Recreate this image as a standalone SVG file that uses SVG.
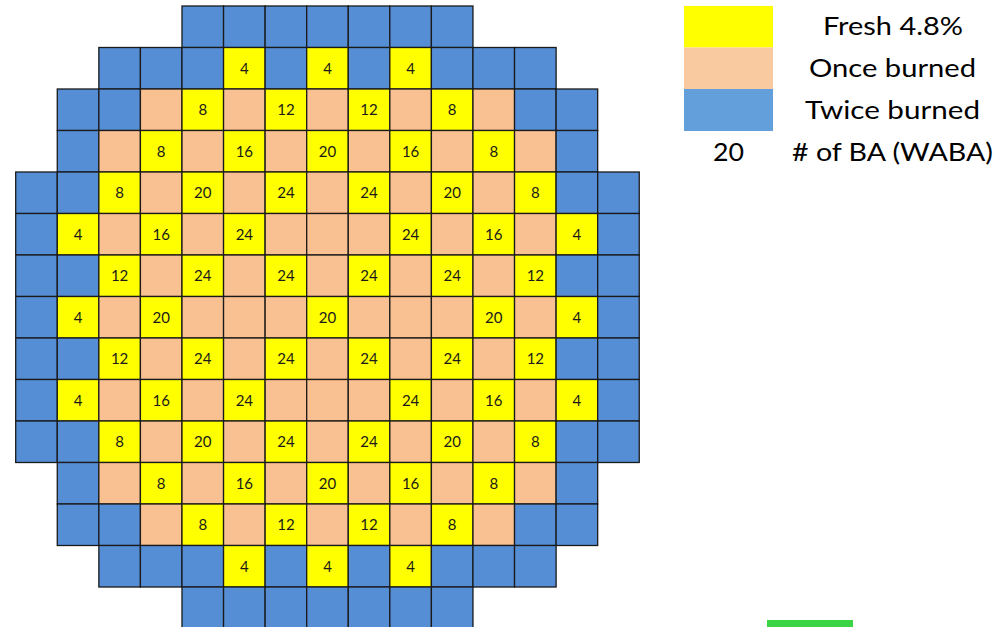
<svg xmlns="http://www.w3.org/2000/svg" width="1001" height="627" viewBox="0 0 1001 627">
<style>
rect.b,rect.p,rect.y{stroke:#1a1a1a;stroke-width:1.3}
.b{fill:#558ED5}
.p{fill:#F9C091}
.y{fill:#FFFF00}
.n{font-family:Lato,"Liberation Sans",sans-serif;font-size:15px;fill:#1a1a1a;text-anchor:middle}
.lg{font-family:Lato,"Liberation Sans",sans-serif;font-size:25px;fill:#000;text-anchor:middle}
</style>
<rect width="1001" height="627" fill="#fff"/>
<g id="core">
<g id="row0" transform="translate(0,6)">
<rect class="b" x="181.98" width="41.57" height="41.5"/><rect class="b" x="223.55" width="41.57" height="41.5"/><rect class="b" x="265.12" width="41.57" height="41.5"/><rect class="b" x="306.69" width="41.57" height="41.5"/><rect class="b" x="348.26" width="41.57" height="41.5"/><rect class="b" x="389.83" width="41.57" height="41.5"/><rect class="b" x="431.40" width="41.57" height="41.5"/>
</g>
<g id="row1" transform="translate(0,47.5)">
<rect class="b" x="98.84" width="41.57" height="41.5"/><rect class="b" x="140.41" width="41.57" height="41.5"/><rect class="b" x="181.98" width="41.57" height="41.5"/><rect class="y" x="223.55" width="41.57" height="41.5"/><rect class="b" x="265.12" width="41.57" height="41.5"/><rect class="y" x="306.69" width="41.57" height="41.5"/><rect class="b" x="348.26" width="41.57" height="41.5"/><rect class="y" x="389.83" width="41.57" height="41.5"/><rect class="b" x="431.40" width="41.57" height="41.5"/><rect class="b" x="472.97" width="41.57" height="41.5"/><rect class="b" x="514.54" width="41.57" height="41.5"/>
<text class="n" x="244.34" y="26">4</text><text class="n" x="327.48" y="26">4</text><text class="n" x="410.62" y="26">4</text>
</g>
<g id="row2" transform="translate(0,89)">
<rect class="b" x="57.27" width="41.57" height="41.5"/><rect class="b" x="98.84" width="41.57" height="41.5"/><rect class="p" x="140.41" width="41.57" height="41.5"/><rect class="y" x="181.98" width="41.57" height="41.5"/><rect class="p" x="223.55" width="41.57" height="41.5"/><rect class="y" x="265.12" width="41.57" height="41.5"/><rect class="p" x="306.69" width="41.57" height="41.5"/><rect class="y" x="348.26" width="41.57" height="41.5"/><rect class="p" x="389.83" width="41.57" height="41.5"/><rect class="y" x="431.40" width="41.57" height="41.5"/><rect class="p" x="472.97" width="41.57" height="41.5"/><rect class="b" x="514.54" width="41.57" height="41.5"/><rect class="b" x="556.11" width="41.57" height="41.5"/>
<text class="n" x="202.77" y="26">8</text><text class="n" x="285.91" y="26">12</text><text class="n" x="369.05" y="26">12</text><text class="n" x="452.19" y="26">8</text>
</g>
<g id="row3" transform="translate(0,130.5)">
<rect class="b" x="57.27" width="41.57" height="41.5"/><rect class="p" x="98.84" width="41.57" height="41.5"/><rect class="y" x="140.41" width="41.57" height="41.5"/><rect class="p" x="181.98" width="41.57" height="41.5"/><rect class="y" x="223.55" width="41.57" height="41.5"/><rect class="p" x="265.12" width="41.57" height="41.5"/><rect class="y" x="306.69" width="41.57" height="41.5"/><rect class="p" x="348.26" width="41.57" height="41.5"/><rect class="y" x="389.83" width="41.57" height="41.5"/><rect class="p" x="431.40" width="41.57" height="41.5"/><rect class="y" x="472.97" width="41.57" height="41.5"/><rect class="p" x="514.54" width="41.57" height="41.5"/><rect class="b" x="556.11" width="41.57" height="41.5"/>
<text class="n" x="161.20" y="26">8</text><text class="n" x="244.34" y="26">16</text><text class="n" x="327.48" y="26">20</text><text class="n" x="410.62" y="26">16</text><text class="n" x="493.76" y="26">8</text>
</g>
<g id="row4" transform="translate(0,172)">
<rect class="b" x="15.70" width="41.57" height="41.5"/><rect class="b" x="57.27" width="41.57" height="41.5"/><rect class="y" x="98.84" width="41.57" height="41.5"/><rect class="p" x="140.41" width="41.57" height="41.5"/><rect class="y" x="181.98" width="41.57" height="41.5"/><rect class="p" x="223.55" width="41.57" height="41.5"/><rect class="y" x="265.12" width="41.57" height="41.5"/><rect class="p" x="306.69" width="41.57" height="41.5"/><rect class="y" x="348.26" width="41.57" height="41.5"/><rect class="p" x="389.83" width="41.57" height="41.5"/><rect class="y" x="431.40" width="41.57" height="41.5"/><rect class="p" x="472.97" width="41.57" height="41.5"/><rect class="y" x="514.54" width="41.57" height="41.5"/><rect class="b" x="556.11" width="41.57" height="41.5"/><rect class="b" x="597.68" width="41.57" height="41.5"/>
<text class="n" x="119.63" y="26">8</text><text class="n" x="202.77" y="26">20</text><text class="n" x="285.91" y="26">24</text><text class="n" x="369.05" y="26">24</text><text class="n" x="452.19" y="26">20</text><text class="n" x="535.33" y="26">8</text>
</g>
<g id="row5" transform="translate(0,213.5)">
<rect class="b" x="15.70" width="41.57" height="41.5"/><rect class="y" x="57.27" width="41.57" height="41.5"/><rect class="p" x="98.84" width="41.57" height="41.5"/><rect class="y" x="140.41" width="41.57" height="41.5"/><rect class="p" x="181.98" width="41.57" height="41.5"/><rect class="y" x="223.55" width="41.57" height="41.5"/><rect class="p" x="265.12" width="41.57" height="41.5"/><rect class="p" x="306.69" width="41.57" height="41.5"/><rect class="p" x="348.26" width="41.57" height="41.5"/><rect class="y" x="389.83" width="41.57" height="41.5"/><rect class="p" x="431.40" width="41.57" height="41.5"/><rect class="y" x="472.97" width="41.57" height="41.5"/><rect class="p" x="514.54" width="41.57" height="41.5"/><rect class="y" x="556.11" width="41.57" height="41.5"/><rect class="b" x="597.68" width="41.57" height="41.5"/>
<text class="n" x="78.06" y="26">4</text><text class="n" x="161.20" y="26">16</text><text class="n" x="244.34" y="26">24</text><text class="n" x="410.62" y="26">24</text><text class="n" x="493.76" y="26">16</text><text class="n" x="576.90" y="26">4</text>
</g>
<g id="row6" transform="translate(0,255)">
<rect class="b" x="15.70" width="41.57" height="41.5"/><rect class="b" x="57.27" width="41.57" height="41.5"/><rect class="y" x="98.84" width="41.57" height="41.5"/><rect class="p" x="140.41" width="41.57" height="41.5"/><rect class="y" x="181.98" width="41.57" height="41.5"/><rect class="p" x="223.55" width="41.57" height="41.5"/><rect class="y" x="265.12" width="41.57" height="41.5"/><rect class="p" x="306.69" width="41.57" height="41.5"/><rect class="y" x="348.26" width="41.57" height="41.5"/><rect class="p" x="389.83" width="41.57" height="41.5"/><rect class="y" x="431.40" width="41.57" height="41.5"/><rect class="p" x="472.97" width="41.57" height="41.5"/><rect class="y" x="514.54" width="41.57" height="41.5"/><rect class="b" x="556.11" width="41.57" height="41.5"/><rect class="b" x="597.68" width="41.57" height="41.5"/>
<text class="n" x="119.63" y="26">12</text><text class="n" x="202.77" y="26">24</text><text class="n" x="285.91" y="26">24</text><text class="n" x="369.05" y="26">24</text><text class="n" x="452.19" y="26">24</text><text class="n" x="535.33" y="26">12</text>
</g>
<g id="row7" transform="translate(0,296.5)">
<rect class="b" x="15.70" width="41.57" height="41.5"/><rect class="y" x="57.27" width="41.57" height="41.5"/><rect class="p" x="98.84" width="41.57" height="41.5"/><rect class="y" x="140.41" width="41.57" height="41.5"/><rect class="p" x="181.98" width="41.57" height="41.5"/><rect class="p" x="223.55" width="41.57" height="41.5"/><rect class="p" x="265.12" width="41.57" height="41.5"/><rect class="y" x="306.69" width="41.57" height="41.5"/><rect class="p" x="348.26" width="41.57" height="41.5"/><rect class="p" x="389.83" width="41.57" height="41.5"/><rect class="p" x="431.40" width="41.57" height="41.5"/><rect class="y" x="472.97" width="41.57" height="41.5"/><rect class="p" x="514.54" width="41.57" height="41.5"/><rect class="y" x="556.11" width="41.57" height="41.5"/><rect class="b" x="597.68" width="41.57" height="41.5"/>
<text class="n" x="78.06" y="26">4</text><text class="n" x="161.20" y="26">20</text><text class="n" x="327.48" y="26">20</text><text class="n" x="493.76" y="26">20</text><text class="n" x="576.90" y="26">4</text>
</g>
<g id="row8" transform="translate(0,338)">
<rect class="b" x="15.70" width="41.57" height="41.5"/><rect class="b" x="57.27" width="41.57" height="41.5"/><rect class="y" x="98.84" width="41.57" height="41.5"/><rect class="p" x="140.41" width="41.57" height="41.5"/><rect class="y" x="181.98" width="41.57" height="41.5"/><rect class="p" x="223.55" width="41.57" height="41.5"/><rect class="y" x="265.12" width="41.57" height="41.5"/><rect class="p" x="306.69" width="41.57" height="41.5"/><rect class="y" x="348.26" width="41.57" height="41.5"/><rect class="p" x="389.83" width="41.57" height="41.5"/><rect class="y" x="431.40" width="41.57" height="41.5"/><rect class="p" x="472.97" width="41.57" height="41.5"/><rect class="y" x="514.54" width="41.57" height="41.5"/><rect class="b" x="556.11" width="41.57" height="41.5"/><rect class="b" x="597.68" width="41.57" height="41.5"/>
<text class="n" x="119.63" y="26">12</text><text class="n" x="202.77" y="26">24</text><text class="n" x="285.91" y="26">24</text><text class="n" x="369.05" y="26">24</text><text class="n" x="452.19" y="26">24</text><text class="n" x="535.33" y="26">12</text>
</g>
<g id="row9" transform="translate(0,379.5)">
<rect class="b" x="15.70" width="41.57" height="41.5"/><rect class="y" x="57.27" width="41.57" height="41.5"/><rect class="p" x="98.84" width="41.57" height="41.5"/><rect class="y" x="140.41" width="41.57" height="41.5"/><rect class="p" x="181.98" width="41.57" height="41.5"/><rect class="y" x="223.55" width="41.57" height="41.5"/><rect class="p" x="265.12" width="41.57" height="41.5"/><rect class="p" x="306.69" width="41.57" height="41.5"/><rect class="p" x="348.26" width="41.57" height="41.5"/><rect class="y" x="389.83" width="41.57" height="41.5"/><rect class="p" x="431.40" width="41.57" height="41.5"/><rect class="y" x="472.97" width="41.57" height="41.5"/><rect class="p" x="514.54" width="41.57" height="41.5"/><rect class="y" x="556.11" width="41.57" height="41.5"/><rect class="b" x="597.68" width="41.57" height="41.5"/>
<text class="n" x="78.06" y="26">4</text><text class="n" x="161.20" y="26">16</text><text class="n" x="244.34" y="26">24</text><text class="n" x="410.62" y="26">24</text><text class="n" x="493.76" y="26">16</text><text class="n" x="576.90" y="26">4</text>
</g>
<g id="row10" transform="translate(0,421)">
<rect class="b" x="15.70" width="41.57" height="41.5"/><rect class="b" x="57.27" width="41.57" height="41.5"/><rect class="y" x="98.84" width="41.57" height="41.5"/><rect class="p" x="140.41" width="41.57" height="41.5"/><rect class="y" x="181.98" width="41.57" height="41.5"/><rect class="p" x="223.55" width="41.57" height="41.5"/><rect class="y" x="265.12" width="41.57" height="41.5"/><rect class="p" x="306.69" width="41.57" height="41.5"/><rect class="y" x="348.26" width="41.57" height="41.5"/><rect class="p" x="389.83" width="41.57" height="41.5"/><rect class="y" x="431.40" width="41.57" height="41.5"/><rect class="p" x="472.97" width="41.57" height="41.5"/><rect class="y" x="514.54" width="41.57" height="41.5"/><rect class="b" x="556.11" width="41.57" height="41.5"/><rect class="b" x="597.68" width="41.57" height="41.5"/>
<text class="n" x="119.63" y="26">8</text><text class="n" x="202.77" y="26">20</text><text class="n" x="285.91" y="26">24</text><text class="n" x="369.05" y="26">24</text><text class="n" x="452.19" y="26">20</text><text class="n" x="535.33" y="26">8</text>
</g>
<g id="row11" transform="translate(0,462.5)">
<rect class="b" x="57.27" width="41.57" height="41.5"/><rect class="p" x="98.84" width="41.57" height="41.5"/><rect class="y" x="140.41" width="41.57" height="41.5"/><rect class="p" x="181.98" width="41.57" height="41.5"/><rect class="y" x="223.55" width="41.57" height="41.5"/><rect class="p" x="265.12" width="41.57" height="41.5"/><rect class="y" x="306.69" width="41.57" height="41.5"/><rect class="p" x="348.26" width="41.57" height="41.5"/><rect class="y" x="389.83" width="41.57" height="41.5"/><rect class="p" x="431.40" width="41.57" height="41.5"/><rect class="y" x="472.97" width="41.57" height="41.5"/><rect class="p" x="514.54" width="41.57" height="41.5"/><rect class="b" x="556.11" width="41.57" height="41.5"/>
<text class="n" x="161.20" y="26">8</text><text class="n" x="244.34" y="26">16</text><text class="n" x="327.48" y="26">20</text><text class="n" x="410.62" y="26">16</text><text class="n" x="493.76" y="26">8</text>
</g>
<g id="row12" transform="translate(0,504)">
<rect class="b" x="57.27" width="41.57" height="41.5"/><rect class="b" x="98.84" width="41.57" height="41.5"/><rect class="p" x="140.41" width="41.57" height="41.5"/><rect class="y" x="181.98" width="41.57" height="41.5"/><rect class="p" x="223.55" width="41.57" height="41.5"/><rect class="y" x="265.12" width="41.57" height="41.5"/><rect class="p" x="306.69" width="41.57" height="41.5"/><rect class="y" x="348.26" width="41.57" height="41.5"/><rect class="p" x="389.83" width="41.57" height="41.5"/><rect class="y" x="431.40" width="41.57" height="41.5"/><rect class="p" x="472.97" width="41.57" height="41.5"/><rect class="b" x="514.54" width="41.57" height="41.5"/><rect class="b" x="556.11" width="41.57" height="41.5"/>
<text class="n" x="202.77" y="26">8</text><text class="n" x="285.91" y="26">12</text><text class="n" x="369.05" y="26">12</text><text class="n" x="452.19" y="26">8</text>
</g>
<g id="row13" transform="translate(0,545.5)">
<rect class="b" x="98.84" width="41.57" height="41.5"/><rect class="b" x="140.41" width="41.57" height="41.5"/><rect class="b" x="181.98" width="41.57" height="41.5"/><rect class="y" x="223.55" width="41.57" height="41.5"/><rect class="b" x="265.12" width="41.57" height="41.5"/><rect class="y" x="306.69" width="41.57" height="41.5"/><rect class="b" x="348.26" width="41.57" height="41.5"/><rect class="y" x="389.83" width="41.57" height="41.5"/><rect class="b" x="431.40" width="41.57" height="41.5"/><rect class="b" x="472.97" width="41.57" height="41.5"/><rect class="b" x="514.54" width="41.57" height="41.5"/>
<text class="n" x="244.34" y="26">4</text><text class="n" x="327.48" y="26">4</text><text class="n" x="410.62" y="26">4</text>
</g>
<g id="row14" transform="translate(0,587)">
<rect class="b" x="181.98" width="41.57" height="41.5"/><rect class="b" x="223.55" width="41.57" height="41.5"/><rect class="b" x="265.12" width="41.57" height="41.5"/><rect class="b" x="306.69" width="41.57" height="41.5"/><rect class="b" x="348.26" width="41.57" height="41.5"/><rect class="b" x="389.83" width="41.57" height="41.5"/><rect class="b" x="431.40" width="41.57" height="41.5"/>
</g>
</g>
<g id="legend">
<rect x="684" y="6" width="89" height="41.5" fill="#FFFF00"/>
<rect x="684" y="47.5" width="89" height="41.5" fill="#F9C99F"/>
<rect x="684" y="89" width="89" height="42" fill="#63A0DB"/>
<text class="lg" x="893" y="35" textLength="140" lengthAdjust="spacingAndGlyphs">Fresh 4.8%</text>
<text class="lg" x="892.5" y="77" textLength="167" lengthAdjust="spacingAndGlyphs">Once burned</text>
<text class="lg" x="892.5" y="119" textLength="175" lengthAdjust="spacingAndGlyphs">Twice burned</text>
<text class="lg" x="728.5" y="161" textLength="31" lengthAdjust="spacingAndGlyphs">20</text>
<text class="lg" x="892.5" y="161" textLength="201" lengthAdjust="spacingAndGlyphs"># of BA (WABA)</text>
</g>
<rect id="green-bar" x="767" y="620" width="86" height="7" fill="#3AD444"/>
</svg>
